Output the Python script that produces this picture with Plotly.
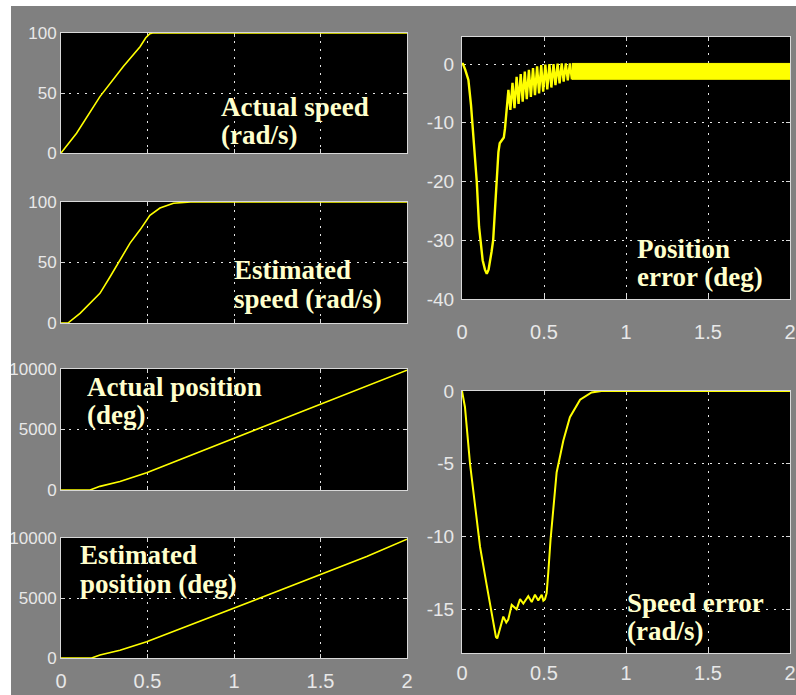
import plotly.graph_objects as go

W, H = 796, 695

# ---------------- data ----------------
speed_t = [0, 0.09, 0.225, 0.36, 0.457, 0.49, 0.514, 0.53, 2.0]
speed_actual = [0, 16.5, 47, 72, 88.6, 96, 99.5, 100, 100]

est_speed_t = [0, 0.04, 0.11, 0.168, 0.225, 0.283, 0.341, 0.399, 0.457, 0.514, 0.572, 0.65, 0.75, 2.0]
est_speed = [0, 0, 8, 16, 24.5, 38, 52, 66, 77, 89, 95, 99, 100, 100]

pos_t = [0, 0.168, 0.225, 0.341, 0.495, 0.649, 0.803, 1.0, 1.19, 1.5, 1.767, 2.0]
pos_actual = [0, 0, 300, 700, 1430, 2300, 3200, 4300, 5350, 7100, 8600, 9900]

est_pos_t = [0, 0.177, 0.225, 0.341, 0.495, 0.649, 0.803, 1.0, 1.19, 1.5, 1.767, 2.0]
est_pos = [0, 0, 250, 650, 1350, 2200, 3050, 4200, 5250, 6950, 8450, 9900]

pos_err_t = [0, 0.006, 0.02, 0.039, 0.055, 0.069, 0.09, 0.104, 0.114, 0.126, 0.14, 0.151,
             0.162, 0.172, 0.18, 0.19, 0.21, 0.222, 0.23, 0.245, 0.255, 0.262, 0.27,
             0.283, 0.295, 0.308, 0.32, 0.333, 0.345, 0.358, 0.37, 0.383, 0.395, 0.408,
             0.42, 0.433, 0.445, 0.458, 0.47, 0.483, 0.495, 0.508, 0.52, 0.533, 0.545,
             0.558, 0.57, 0.583, 0.595, 0.608, 0.62, 0.633, 0.645, 0.658, 0.67]
pos_err = [0, 0, -1, -2.7, -7, -12, -20, -27.7, -30, -33.4, -35, -35.7,
           -35, -33.5, -32, -30, -20, -15, -13.5, -13, -12.5, -11, -7.8,
           -4.4, -7.8, -3.2, -7.5, -2.2, -6.8, -1.7, -6.4, -1.3, -6.0, -1.0,
           -5.6, -0.7, -5.3, -0.4, -5.0, -0.2, -4.7, -0.1, -4.3, 0, -4.0,
           0, -3.6, 0.05, -3.3, 0.1, -3.0, 0.1, -2.8, 0.1, -2.6]
# steady-state chattering band of the position error
band_t = [0.67, 2.0]
band_hi = [0.1, 0.1]
band_lo = [-2.6, -2.6]

spd_err_t = [0, 0.018, 0.049, 0.09, 0.11, 0.15, 0.18, 0.207, 0.215, 0.242, 0.252, 0.27,
             0.282, 0.303, 0.333, 0.354, 0.374, 0.404, 0.425, 0.445, 0.465, 0.486,
             0.496, 0.506, 0.516, 0.526, 0.54, 0.577, 0.618, 0.658, 0.72, 0.79, 0.85, 2.0]
spd_err = [0, -1.1, -5, -8.9, -10.7, -13.3, -15.3, -16.9, -17.0, -16.0, -15.5, -15.9,
           -15.7, -14.7, -15.0, -14.3, -14.6, -14.1, -14.5, -14.0, -14.4, -14.0,
           -14.4, -14.3, -13.9, -12.5, -10.2, -5.6, -3.4, -1.8, -0.6, -0.1, 0, 0]

t_ticks = [0, 0.5, 1, 1.5, 2]
t_labels = ['0', '0.5', '1', '1.5', '2']
speed_ticks = [0, 50, 100]
speed_labels = ['0', '50', '100']
pos_ticks = [0, 5000, 10000]
pos_labels = ['0', '5000', '10000']
pe_ticks = [0, -10, -20, -30, -40]
pe_labels = ['0', '-10', '-20', '-30', '-40']
se_ticks = [0, -5, -10, -15]
se_labels = ['0', '-5', '-10', '-15']

labels = [
    ('Actual speed', 219, 116), ('(rad/s)', 219, 144),
    ('Estimated', 232, 279), ('speed (rad/s)', 232, 308),
    ('Actual position', 85, 396), ('(deg)', 85, 424),
    ('Estimated', 78, 564), ('position (deg)', 78, 593),
    ('Position', 635, 258), ('error (deg)', 635, 286),
    ('Speed error', 625, 612), ('(rad/s)', 625, 640),
]

# ---------------- figure ----------------
YEL = '#ffff00'
TICKFONT = 'Liberation Sans, Arial, sans-serif'
fig = go.Figure()


def ax_name(n, axis):
    return axis + ('' if n == 1 else str(n))


def add(t, v, n, w=1.6, **kw):
    fig.add_trace(go.Scatter(x=t, y=v, mode='lines', line=dict(color=YEL, width=w),
                             xaxis=ax_name(n, 'x'), yaxis=ax_name(n, 'y'),
                             hoverinfo='skip', showlegend=False, **kw))


add(speed_t, speed_actual, 1)
add(est_speed_t, est_speed, 2)
add(pos_t, pos_actual, 3)
add(est_pos_t, est_pos, 4)
add(pos_err_t, pos_err, 5, w=2.4)
add(band_t, band_hi, 5, w=1)
add(band_t, band_lo, 5, w=1, fill='tonexty', fillcolor=YEL)
add(spd_err_t, spd_err, 6, w=2)


def xd(l, r):
    return [l / W, r / W]


def yd(top, bottom):
    return [1 - bottom / H, 1 - top / H]


def common(size):
    return dict(showline=True, linecolor='#d8d8d8', linewidth=1, mirror='ticks',
                ticks='inside', ticklen=4, tickcolor='#d8d8d8', tickwidth=1,
                showgrid=True, gridcolor='#e6e6e6', griddash='2px,6px', gridwidth=1,
                zeroline=False, layer='below traces', fixedrange=True, automargin=False,
                tickfont=dict(family=TICKFONT, size=size, color='#e8e8e8'))


left = xd(61, 407)
right = xd(462, 790)
# n, x domain, y domain, y range, y ticks, y labels, show x labels, x standoff, y standoff
panels = [
    (1, left, yd(33, 153), [0, 100], speed_ticks, speed_labels, False, 5, 0),
    (2, left, yd(202, 323), [0, 100], speed_ticks, speed_labels, False, 5, 0),
    (3, left, yd(369, 490), [0, 10000], pos_ticks, pos_labels, False, 5, 0),
    (4, left, yd(538, 658), [0, 10000], pos_ticks, pos_labels, True, 5, 0),
    (5, right, yd(37, 299), [-40, 4.6], pe_ticks, pe_labels, True, 15, 3),
    (6, right, yd(391, 653), [-18, 0], se_ticks, se_labels, True, 2, 3),
]

layout = dict(width=W, height=H, margin=dict(l=0, r=0, t=0, b=0, autoexpand=False),
              paper_bgcolor='#808080', plot_bgcolor='#000000', showlegend=False)
for n, xdom, ydom, yr, yt, ytl, showx, xso, yso in panels:
    xa = common(20)
    xa.update(domain=xdom, range=[0, 2], tickvals=t_ticks, ticktext=t_labels,
              showticklabels=showx, anchor=ax_name(n, 'y'), ticklabelstandoff=xso)
    ya = common(19 if n >= 5 else 17)
    ya.update(domain=ydom, range=yr, tickvals=yt, ticktext=ytl,
              anchor=ax_name(n, 'x'), ticklabelstandoff=yso)
    layout['xaxis' + ('' if n == 1 else str(n))] = xa
    layout['yaxis' + ('' if n == 1 else str(n))] = ya

fig.update_layout(**layout)

for text, xpx, base in labels:
    fig.add_annotation(text=text, x=xpx / W, y=1 - (base - 9) / H, xref='paper', yref='paper',
                       xanchor='left', yanchor='middle', showarrow=False, align='left',
                       font=dict(family='Liberation Serif, Times New Roman, serif', size=27,
                                 color='#ffffcc', weight='bold'))

# white borders of the screenshot
fig.add_shape(type='rect', xref='paper', yref='paper', x0=0, x1=1, y0=1 - 6 / H, y1=1,
              fillcolor='white', line=dict(width=0), layer='above')
fig.add_shape(type='rect', xref='paper', yref='paper', x0=0, x1=11 / W, y0=0, y1=1,
              fillcolor='white', line=dict(width=0), layer='above')

fig.write_html('out.html')
